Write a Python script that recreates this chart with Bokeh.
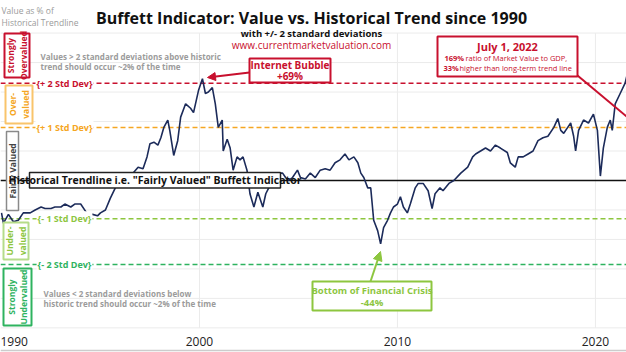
from math import pi
from bokeh.plotting import figure
from bokeh.models import Range1d, Label, Arrow, NormalHead, FixedTicker
from bokeh.embed import file_html
from bokeh.resources import INLINE

# ---------------- data ----------------
years = [1990.0, 1990.1, 1990.35, 1990.6, 1990.85, 1991.1, 1991.45, 1991.7, 1992.0, 1992.2,
         1992.5, 1992.7, 1993.0, 1993.2, 1993.5, 1993.7, 1994.0, 1994.3, 1994.6, 1994.85,
         1995.0, 1995.25, 1995.5, 1995.75, 1996.0, 1996.35, 1996.65, 1996.9, 1997.15, 1997.35,
         1997.5, 1997.7, 1997.9, 1998.05, 1998.2, 1998.4, 1998.5, 1998.7, 1998.9, 1999.05,
         1999.3, 1999.55, 1999.7, 1999.95, 2000.15, 2000.3, 2000.45, 2000.65, 2000.8, 2000.95,
         2001.15, 2001.2, 2001.4, 2001.55, 2001.7, 2001.9, 2002.05, 2002.2, 2002.4, 2002.55,
         2002.75, 2002.95, 2003.2, 2003.35, 2003.5, 2003.7, 2003.95, 2004.2, 2004.35, 2004.5,
         2004.7, 2004.95, 2005.1, 2005.35, 2005.6, 2005.85, 2006.1, 2006.35, 2006.6, 2006.85,
         2007.1, 2007.35, 2007.55, 2007.8, 2008.0, 2008.15, 2008.3, 2008.5, 2008.65, 2008.8,
         2009.0, 2009.15, 2009.3, 2009.5, 2009.65, 2009.8, 2010.0, 2010.15, 2010.3, 2010.5,
         2010.65, 2010.9, 2011.05, 2011.3, 2011.55, 2011.75, 2011.9, 2012.15, 2012.3, 2012.6,
         2012.85, 2013.2, 2013.55, 2013.8, 2013.95, 2014.2, 2014.45, 2014.7, 2014.95, 2015.2,
         2015.55, 2015.7, 2015.95, 2016.1, 2016.35, 2016.6, 2016.85, 2017.1, 2017.35, 2017.6,
         2017.9, 2018.1, 2018.25, 2018.4, 2018.6, 2018.75, 2018.9, 2019.0, 2019.15, 2019.4,
         2019.65, 2019.9, 2020.1, 2020.25, 2020.4, 2020.6, 2020.75, 2020.85, 2021.0, 2021.25,
         2021.5, 2021.75, 2022.0, 2022.25, 2022.5]
pct_of_trend = [78, 71, 77, 72, 73, 78, 78, 80, 82, 81,
                81, 82, 82, 84, 82, 84, 84, 78, 77, 76,
                78, 80, 88, 95, 99, 102, 105, 109, 108, 116,
                125, 126, 124, 129, 136, 141, 134, 117, 127, 143,
                152, 149, 146, 161, 169, 159, 160, 163, 152, 136,
                141, 120, 128, 122, 107, 116, 114, 116, 107, 91,
                82, 92, 82, 91, 95, 98, 105, 105, 102, 100,
                102, 107, 102, 101, 105, 102, 107, 108, 107, 112,
                114, 118, 114, 116, 112, 105, 102, 95, 95, 73,
                66, 57, 68, 73, 78, 82, 84, 89, 82, 78,
                84, 95, 98, 98, 93, 81, 91, 95, 93, 98,
                100, 105, 109, 116, 118, 120, 122, 120, 124, 122,
                119, 112, 109, 116, 116, 118, 120, 127, 129, 130,
                136, 142, 134, 132, 136, 139, 130, 120, 134, 141,
                139, 145, 134, 103, 122, 136, 141, 134, 152, 159,
                166, 180, 188, 165, 133]

trend_level = 100
std_levels = [166, 136, 74, 43]
std_names = ["{+ 2 Std Dev}", "{+ 1 Std Dev}", "{- 1 Std Dev}", "{- 2 Std Dev}"]
grid_levels = [0, 20, 40, 60, 80, 100, 120, 140, 160, 180, 200]
tick_years = [1990, 2000, 2010, 2020]

# ---------------- geometry ----------------
W, H = 626, 352
X0, X1 = 1989.95, 2021.57
Y0, Y1 = -16.7, 222.1


def X(px):
    return X0 + px * (X1 - X0) / W


def Y(py):
    return Y1 - py * (Y1 - Y0) / H


RED = "#C8102E"
ORANGE = "#F5A623"
LGREEN = "#8DC63F"
GREEN = "#2EB35F"
GRAY = "#9b9b9b"
NAVY = "#1c2b5a"
FONT = "Open Sans"

p = figure(width=W, height=H, x_range=Range1d(X0, X1), y_range=Range1d(Y0, Y1),
           output_backend="svg", toolbar_location=None, min_border=0)
p.outline_line_color = None
p.xgrid.visible = False
p.ygrid.visible = False
p.yaxis.visible = False
p.background_fill_color = "white"
p.border_fill_color = "white"

ax = p.xaxis[0]
ax.ticker = FixedTicker(ticks=tick_years)
ax.fixed_location = Y(328)
ax.axis_line_color = None
ax.major_tick_line_color = None
ax.minor_tick_line_color = None
ax.major_label_standoff = 2
ax.major_label_text_font = FONT
ax.major_label_text_font_size = "12px"
ax.major_label_text_color = "#222222"

# gridlines
p.segment(x0=X0, x1=X1, y0=grid_levels, y1=grid_levels, line_color="#ebebeb", line_width=1)
p.segment(x0=tick_years[1:], x1=tick_years[1:], y0=grid_levels[0], y1=grid_levels[-1],
          line_color="#ebebeb", line_width=1)
# bottom rule
p.segment(x0=X0, x1=X1, y0=Y(350), y1=Y(350), line_color="#cccccc", line_width=1.5)

# std dev lines
std_colors = [RED, ORANGE, LGREEN, GREEN]
for lvl, c in zip(std_levels, std_colors):
    p.segment(x0=X0, x1=X1, y0=lvl, y1=lvl, line_color=c, line_width=1.5, line_dash="5 3")
# trend line
p.segment(x0=X0, x1=X1, y0=trend_level, y1=trend_level, line_color="#111111", line_width=1.5)

# data
p.line(years, pct_of_trend, line_color=NAVY, line_width=1.6)

# annotation boxes (white filled, coloured borders), in pixel positions
boxes = [  # left, right, top, bottom, colour, width
    (4, 29, 33, 77, RED, 2),
    (5, 32, 85, 123, "#F9C46B", 2),
    (6, 18, 131, 210, "#8a8a8a", 1.5),
    (3, 28, 222, 259, "#B5DC8A", 2),
    (3, 31, 268, 325, GREEN, 2),
    (29, 280, 172, 187.5, "#222222", 1.5),
    (249, 330, 58, 82, RED, 2),
    (312, 431, 281, 310, LGREEN, 2),
    (437, 577, 36, 76, RED, 2),
]
for b in boxes:
    p.quad(left=X(b[0]), right=X(b[1]), top=Y(b[2]), bottom=Y(b[3]),
           fill_color="#ffffff", fill_alpha=1.0, line_color=b[4], line_width=b[5])


def lab(px, py, text, color, size, bold=True, align="center", angle=0.0, bg=None, font=FONT,
        pad=0):
    kw = {}
    if bg:
        kw["background_fill_color"] = bg
        kw["padding"] = pad
    p.add_layout(Label(x=X(px), y=Y(py), text=text, text_color=color, text_font=font,
                       text_font_size=size, text_font_style="bold" if bold else "normal",
                       text_align=align, text_baseline="middle", angle=angle,
                       text_line_height=1.15, **kw))


# std labels
for lvl, name, c in zip(std_levels, std_names, std_colors):
    py = (Y1 - lvl) * H / (Y1 - Y0)
    lab(64, py, name, c, "9px", bg="white", pad=1)

# left category labels
lab(16.5, 55, "Strongly\nOvervalued", RED, "8.5px", angle=pi / 2)
lab(18.5, 104, "Over-\nvalued", ORANGE, "8.5px", angle=pi / 2)
lab(12, 170.5, "Fairly Valued", "#444444", "8.5px", angle=pi / 2)
lab(15.5, 240.5, "Under-\nvalued", LGREEN, "8.5px", angle=pi / 2)
lab(17, 296.5, "Strongly\nUndervalued", GREEN, "8.5px", angle=pi / 2)

# descriptive texts
lab(40, 56, "Values > 2 standard deviations above historic", GRAY, "8px", align="left")
lab(40, 66, "trend should occur ~2% of the time", GRAY, "8px", align="left")
lab(43, 293, "Values < 2 standard deviations below", GRAY, "8px", align="left")
lab(43, 303, "historic trend should occur ~2% of the time", GRAY, "8px", align="left")

# trendline label
lab(154.5, 179.5, 'Historical Trendline i.e. "Fairly Valued" Buffett Indicator', "#111111",
    "10.5px")

# internet bubble
p.add_layout(Arrow(x_start=X(249), y_start=Y(72), x_end=X(207), y_end=Y(77),
                   line_color=RED, line_width=2,
                   end=NormalHead(size=8, fill_color=RED, line_color=RED)))
lab(289.5, 64.5, "Internet Bubble", RED, "10px")
lab(289.5, 75.5, "+69%", RED, "10px")

# financial crisis
p.add_layout(Arrow(x_start=X(370), y_start=Y(281), x_end=X(380), y_end=Y(251),
                   line_color=LGREEN, line_width=2,
                   end=NormalHead(size=9, fill_color=LGREEN, line_color=LGREEN)))
lab(371.5, 290, "Bottom of Financial Crisis", LGREEN, "9.5px")
lab(371.5, 301.5, "-44%", LGREEN, "9.5px")

# July 2022 callout
p.add_layout(Arrow(x_start=X(577), y_start=Y(75), x_end=2022.5, y_end=133,
                   line_color=RED, line_width=2,
                   end=NormalHead(size=8, fill_color=RED, line_color=RED)))
lab(507, 45.5, "July 1, 2022", RED, "11px")
lab(444, 57, "169%", RED, "7.5px", align="left")
lab(465, 57, "ratio of Market Value to GDP,", RED, "7.5px", bold=False, align="left")
lab(443, 67, "33%", RED, "7.5px", align="left")
lab(459, 67, "higher than long-term trend line", RED, "7.5px", bold=False, align="left")

# titles
lab(311, 17, "Buffett Indicator: Value vs. Historical Trend since 1990", "#111111", "16px")
lab(311, 33, "with +/- 2 standard deviations", "#111111", "9.5px")
lab(311, 44, "www.currentmarketvaluation.com", RED, "10px", bold=False)
lab(1, 10, "Value as % of", GRAY, "8.5px", bold=False, align="left")
lab(1, 22, "Historical Trendline", GRAY, "8.5px", bold=False, align="left")

open("out.html", "w").write(file_html(p, INLINE))
